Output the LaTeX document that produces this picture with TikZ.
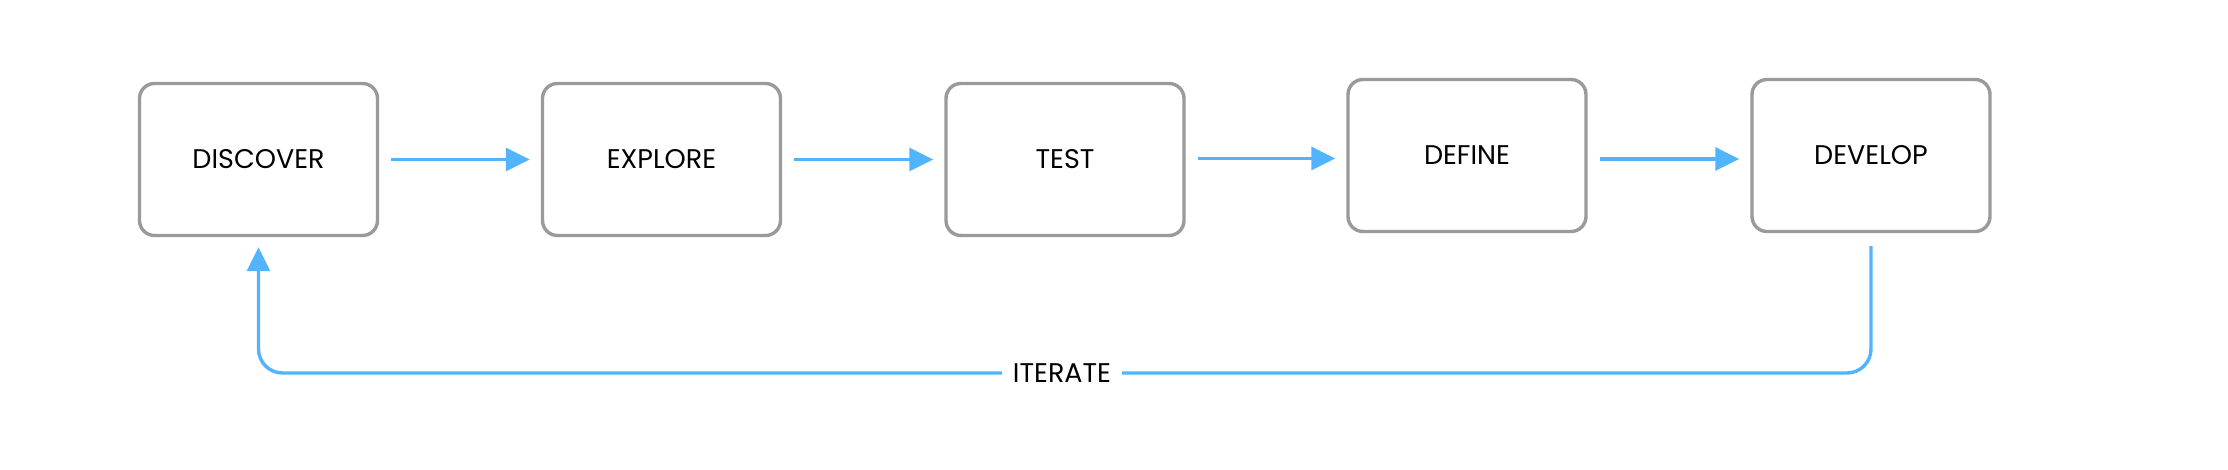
\documentclass[tikz,border=0pt]{standalone}
\usepackage{fontspec}
\setmainfont{Poppins}
\usetikzlibrary{arrows.meta,calc}
\definecolor{boxgray}{HTML}{9A9A9A}
\definecolor{flowblue}{HTML}{52B3FF}
\tikzset{
  stage/.style={draw=boxgray, line width=1.7pt, rounded corners=7.5pt, fill=white,
    minimum width=119pt, minimum height=76pt, inner sep=0pt,
    font=\fontsize{13.5}{15}\selectfont, text=black},
  flow/.style={draw=flowblue, line width=1.7pt,
    -{Triangle[length=12pt,width=11.5pt]}},
  loopline/.style={draw=flowblue, line width=1.7pt, rounded corners=12pt,
    -{Triangle[length=12pt,width=11.5pt]}},
  lbl/.style={fill=white, inner xsep=5.5pt, inner ysep=2pt,
    font=\fontsize{13.5}{15}\selectfont, text=black}
}
\begin{document}
\begin{tikzpicture}[x=0.5pt,y=-0.5pt]
\useasboundingbox (0,0) rectangle (2228,470);
\fill[white] (0,0) rectangle (2228,470);
\node[stage] (disc) at (258.5,159.5) {DISCOVER};
\node[stage] (expl) at (661.5,159.5) {EXPLORE};
\node[stage] (test) at (1065,159.5) {TEST};
\node[stage] (defi) at (1467,155.5) {DEFINE};
\node[stage] (deve) at (1871,155.5) {DEVELOP};
\coordinate (loop) at (0,373);
\draw[flow] ([xshift=6pt]disc.east) -- ($(expl.west |- disc.east)+(-11,0)$);
\draw[flow] ([xshift=6pt]expl.east) -- ($(test.west |- expl.east)+(-11,0)$);
\draw[flow] ([xshift=6pt,yshift=0.5pt]test.east) -- ($(defi.west |- test.east)+(-11,-1)$);
\draw[flow] ([xshift=6pt,yshift=-1.75pt]defi.east) -- ($(deve.west)+(-11,3.5)$);
\draw[loopline] ([yshift=-6.5pt]deve.south) -- (deve.south |- loop) -- (disc.south |- loop) -- ([yshift=-5pt]disc.south);
\node[lbl] (iter) at (1062,373) {ITERATE};
\end{tikzpicture}
\end{document}
